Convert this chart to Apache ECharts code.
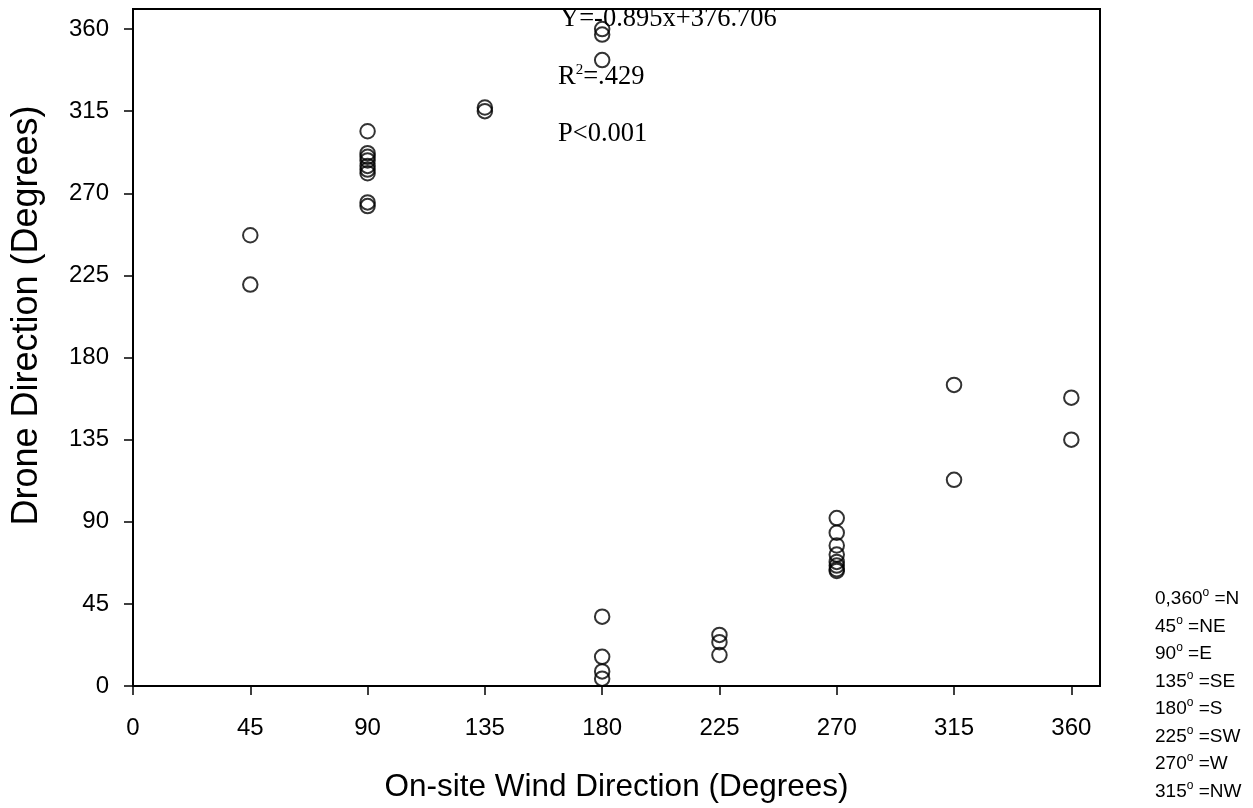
<!DOCTYPE html>
<html>
<head>
<meta charset="utf-8">
<script src="https://cdn.jsdelivr.net/npm/echarts@6/dist/echarts.min.js"></script>
<style>
  html, body { margin: 0; padding: 0; background: #fff; }
  #chart { width: 1253px; height: 808px; }
</style>
</head>
<body>
<div id="chart"></div>
<script>
// on-site wind direction (x) and drone direction (y)
const onsiteWind = [
  45, 45,
  90, 90, 90, 90, 90, 90, 90, 90, 90,
  135, 135,
  180, 180, 180, 180, 180, 180, 180,
  225, 225, 225,
  270, 270, 270, 270, 270, 270, 270, 270,
  315, 315,
  360, 360
]
const droneDir = [
  247, 220,
  304, 292, 290, 288, 285, 283, 281, 265, 263,
  317, 315,
  360, 357, 343, 38, 16, 8, 4,
  28, 24, 17,
  92, 84, 77, 72, 68, 66, 64, 63,
  165, 113,
  158, 135
]
const tickValues = [0, 45, 90, 135, 180, 225, 270, 315, 360]

// regression annotation
const fitText = ["Y=-0.895x+376.706", "R2=.429", "P<0.001"]

// compass key at bottom right
const keyDegrees = ["0,360", "45", "90", "135", "180", "225", "270", "315"]
const keyDirs = ["N", "NE", "E", "SE", "S", "SW", "W", "NW"]

const chart = echarts.init(document.getElementById("chart"))

const serif = "'Liberation Serif', 'Times New Roman', serif"
const sans = "'Liberation Sans', Arial, sans-serif"

const graphics = []

// equation / R2 / P text
const annTop = [6, 63, 121]
graphics.push({
  type: "text", left: 560, top: annTop[0],
  style: { text: fitText[0], font: "26.5px " + serif, fill: "#000" }, z: 5
})
graphics.push({
  type: "text", left: 558, top: annTop[1],
  style: {
    text: "{n|R}{s|2}{n|" + fitText[1].slice(2) + "}",
    rich: {
      n: { fontFamily: serif, fontSize: 26.5, fill: "#000", lineHeight: 28 },
      s: { fontFamily: serif, fontSize: 15, fill: "#000", lineHeight: 12, verticalAlign: "top" }
    }
  }, z: 5
})
graphics.push({
  type: "text", left: 558, top: annTop[2],
  style: { text: fitText[2], font: "26.5px " + serif, fill: "#000" }, z: 5
})

// compass key
keyDegrees.forEach((d, i) => {
  graphics.push({
    type: "text", left: 1155, top: 587 + i * 27.5,
    style: {
      text: "{n|" + d + "}{s|o}{n| =" + keyDirs[i] + "}",
      rich: {
        n: { fontFamily: sans, fontSize: 19, fill: "#000", lineHeight: 24 },
        s: { fontFamily: sans, fontSize: 12, fill: "#000", lineHeight: 12, verticalAlign: "top" }
      }
    }
  })
})

const option = {
  backgroundColor: "#fff",
  animation: false,
  grid: {
    left: 133,
    right: 153,
    top: 9,
    bottom: 122,
    show: true,
    borderColor: "#000",
    borderWidth: 2
  },
  xAxis: {
    type: "value",
    min: 0,
    max: 371,
    name: "On-site Wind Direction (Degrees)",
    nameLocation: "middle",
    nameGap: 85,
    nameTextStyle: { fontFamily: sans, fontSize: 31.5, color: "#000" },
    axisLine: { show: true, onZero: false, lineStyle: { color: "#000", width: 2 } },
    axisTick: { show: true, length: 9, customValues: tickValues, lineStyle: { color: "#000", width: 1.5 } },
    axisLabel: { customValues: tickValues, margin: 30, fontFamily: sans, fontSize: 24, color: "#000" },
    splitLine: { show: false }
  },
  yAxis: {
    type: "value",
    min: 0,
    max: 371,
    name: "Drone Direction (Degrees)",
    nameLocation: "middle",
    nameGap: 88,
    nameTextStyle: { fontFamily: sans, fontSize: 36, color: "#000", padding: [0, 0, 0, 64] },
    axisLine: { show: true, onZero: false, lineStyle: { color: "#000", width: 2 } },
    axisTick: { show: true, length: 9, customValues: tickValues, lineStyle: { color: "#000", width: 1.5 } },
    axisLabel: { customValues: tickValues, margin: 24, fontFamily: sans, fontSize: 24, color: "#000" },
    splitLine: { show: false }
  },
  graphic: graphics,
  series: [
    {
      type: "scatter",
      data: onsiteWind.map((x, i) => [x, droneDir[i]]),
      symbol: "circle",
      symbolSize: 14.5,
      itemStyle: { color: "rgba(0,0,0,0)", borderColor: "#000", borderWidth: 2 },
      emphasis: { disabled: true },
      z: 3
    }
  ]
}

chart.setOption(option)
</script>
</body>
</html>
